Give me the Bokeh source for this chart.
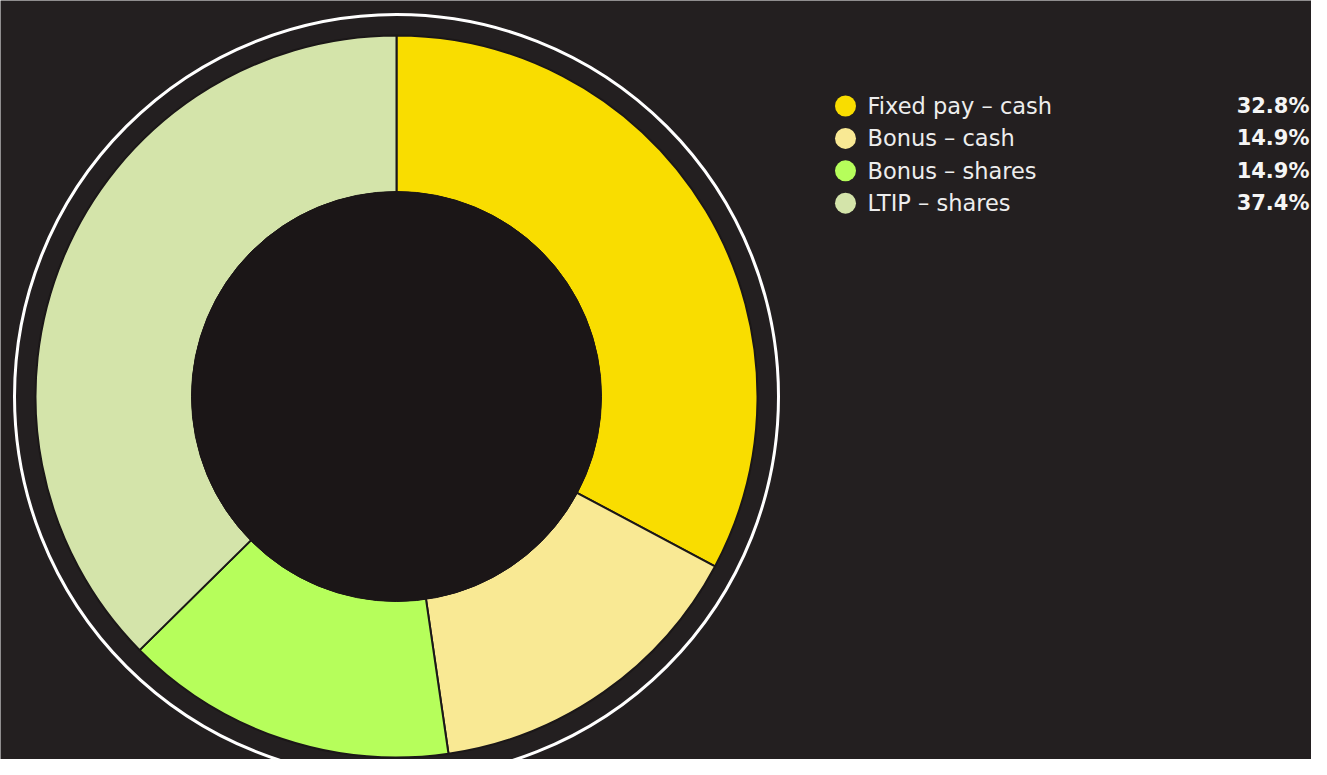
import math
from bokeh.plotting import figure
from bokeh.models import Range1d, ColumnDataSource
from bokeh.core.properties import value
from bokeh.embed import file_html
from bokeh.resources import INLINE

categories = ["Fixed pay \u2013 cash", "Bonus \u2013 cash", "Bonus \u2013 shares", "LTIP \u2013 shares"]
shares = [32.8, 14.9, 14.9, 37.4]
colors = ["#f9dd00", "#f9e994", "#b6fe5b", "#d4e4aa"]
labels = ["32.8%", "14.9%", "14.9%", "37.4%"]

BG = "#231f20"
W, H = 1311, 759  # data units == pixels, y measured from top via H - y

p = figure(width=W, height=H, output_backend="svg", toolbar_location=None,
           x_range=Range1d(0, W), y_range=Range1d(0, H), min_border=0)
p.axis.visible = False
p.grid.visible = False
p.outline_line_color = None
p.background_fill_color = BG
p.border_fill_color = BG

cx, cy = 396, H - 396
total = sum(shares)
starts, ends = [], []
acc = 0.0
for s in shares:
    a0 = math.pi / 2 - 2 * math.pi * acc / total
    acc += s
    a1 = math.pi / 2 - 2 * math.pi * acc / total
    starts.append(a0)
    ends.append(a1)

src = ColumnDataSource(dict(start=starts, end=ends, color=colors))
p.annular_wedge(x=cx, y=cy, inner_radius=204, outer_radius=361,
                start_angle="start", end_angle="end", direction="clock",
                fill_color="color", line_color="#1b1718", line_width=2, source=src)
p.circle(x=cx, y=cy, radius=205, fill_color="#1b1617", line_color="#1b1617", line_width=1)
p.circle(x=cx, y=cy, radius=382, fill_color=None, line_color="white", line_width=3)

ys = [H - (105.5 + i * 32.4) for i in range(len(categories))]
lsrc = ColumnDataSource(dict(y=ys, name=categories, val=labels, color=colors))
p.scatter(x=845, y="y", size=21, fill_color="color", line_color=None, source=lsrc)
p.text(x=867, y="y", text="name", text_font=value("DejaVu Sans"), text_font_size="22.5px",
       text_color="#ededed", text_baseline="middle", text_align="left", source=lsrc)
p.text(x=1309, y="y", text="val", text_font=value("DejaVu Sans"), text_font_size="21px",
       text_font_style="bold", text_color="#f5f5f5", text_baseline="middle",
       text_align="right", source=lsrc)

open("out.html", "w").write(file_html(p, INLINE))
